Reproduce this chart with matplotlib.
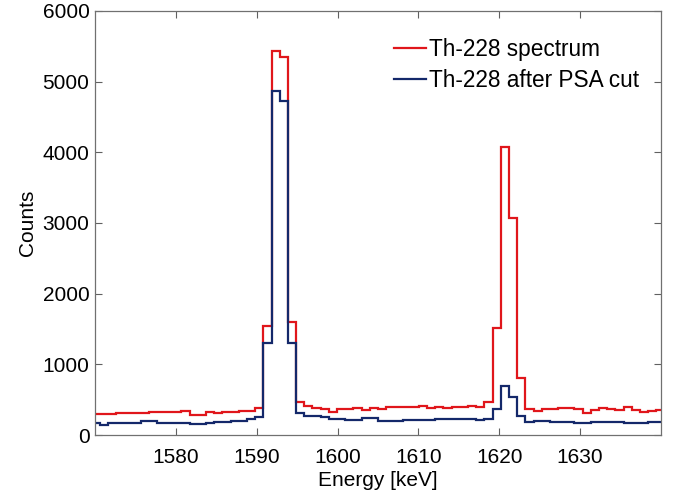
import numpy as np
import matplotlib
matplotlib.use("Agg")
import matplotlib.pyplot as plt

plt.rcParams['font.family'] = ['Liberation Sans', 'DejaVu Sans']

# Histogram binning (keV)
bin_start = 1569.56
bin_width = 1.0125
n_bins = 70

red_counts = [297, 300, 295, 305, 307, 307, 315, 321, 321, 321, 330, 344, 288, 290, 321, 307, 321, 321, 344, 344, 377,
              1542, 5438, 5344, 1595,
              462, 410, 380, 370, 321, 363, 363, 377, 354, 377, 363, 391, 391, 401, 401, 410, 377, 391, 377, 401, 401, 410, 400, 471,
              1519, 4080, 3075, 802,
              363, 340, 363, 363, 377, 377, 363, 316, 349, 377, 363, 349, 391, 354, 321, 340, 354]

blue_counts = [174, 141, 174, 174, 174, 174, 193, 203, 174, 174, 174, 165, 155, 155, 174, 188, 188, 198, 198, 221, 250,
               1306, 4863, 4726, 1306,
               306, 268, 268, 250, 221, 221, 212, 212, 236, 236, 203, 203, 203, 210, 210, 212, 212, 221, 221, 221, 230, 221, 210, 222,
               364, 698, 542, 269,
               188, 198, 198, 188, 188, 188, 174, 174, 179, 179, 179, 188, 174, 165, 174, 183, 183]

x_ticks = [1580, 1590, 1600, 1610, 1620, 1630]
y_ticks = [0, 1000, 2000, 3000, 4000, 5000, 6000]
labels = ["Th-228 spectrum", "Th-228 after PSA cut"]

edges = bin_start + bin_width * np.arange(n_bins + 1)

fig = plt.figure(figsize=(6.81, 4.95), dpi=100)
ax = fig.add_axes([0.1395, 0.1212, 0.8311, 0.8566])

ax.stairs(red_counts, edges, baseline=None, color='#e0161b', linewidth=1.6, label=labels[0])
ax.stairs(blue_counts, edges, baseline=None, color='#14286a', linewidth=1.6, label=labels[1])

ax.set_xlim(1570, 1640)
ax.set_ylim(0, 6000)
ax.set_xticks(x_ticks)
ax.set_yticks(y_ticks)
ax.tick_params(direction='in', length=5, width=0.8, color='#606060',
               top=True, right=True, labelsize=15)
ax.tick_params(axis='x', pad=9)
ax.tick_params(axis='y', pad=4)
for s in ax.spines.values():
    s.set_color('#707070')
    s.set_linewidth(0.9)

ax.set_xlabel("Energy [keV]", fontsize=15, labelpad=3)
ax.set_ylabel("Counts", fontsize=15, labelpad=4)

leg = ax.legend(loc='upper right', bbox_to_anchor=(0.985, 0.968), frameon=False,
                fontsize=16.3, handlelength=1.4, handletextpad=0.15,
                labelspacing=0.36, borderaxespad=0.2)

fig.savefig("out.png", dpi=100)
